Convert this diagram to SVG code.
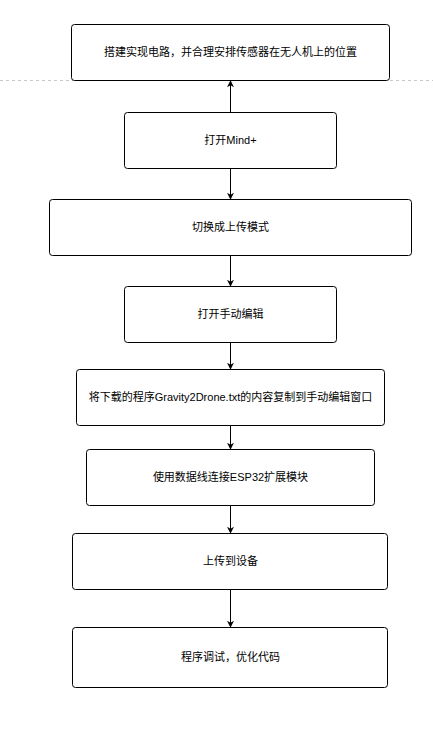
<svg xmlns="http://www.w3.org/2000/svg" width="433" height="733" viewBox="0 0 433 733">
<defs>
<style>
.box{fill:#fff;stroke:#000;stroke-width:1}
.lbl{font-family:"Liberation Sans","Noto Sans CJK SC",sans-serif;font-size:11px;fill:#000;text-anchor:middle;dominant-baseline:central}
.edge{stroke:#000;stroke-width:1;fill:none}
</style>
<marker id="arr" viewBox="0 0 10 10" refX="9" refY="5" markerWidth="7" markerHeight="7" markerUnits="userSpaceOnUse" orient="auto">
<path d="M0,0 L10,5 L0,10 L3,5 Z" fill="#000"/>
</marker>
</defs>
<rect width="433" height="733" fill="#fff"/>
<line x1="0" y1="80.5" x2="433" y2="80.5" stroke="#c8c8c8" stroke-width="1" stroke-dasharray="3,3"/>
<g id="connectors">
<line class="edge" x1="230.5" y1="112" x2="230.5" y2="81" marker-end="url(#arr)"/>
<line class="edge" x1="230.5" y1="168" x2="230.5" y2="199" marker-end="url(#arr)"/>
<line class="edge" x1="230.5" y1="255" x2="230.5" y2="286" marker-end="url(#arr)"/>
<line class="edge" x1="230.5" y1="342" x2="230.5" y2="369" marker-end="url(#arr)"/>
<line class="edge" x1="230.5" y1="425" x2="230.5" y2="449" marker-end="url(#arr)"/>
<line class="edge" x1="230.5" y1="505" x2="230.5" y2="533" marker-end="url(#arr)"/>
<line class="edge" x1="230.5" y1="589" x2="230.5" y2="627" marker-end="url(#arr)"/>
</g>
<g id="n1"><rect class="box" x="71.5" y="24.5" width="318" height="56" rx="3"/><text class="lbl" x="230.5" y="51.5">搭建实现电路，并合理安排传感器在无人机上的位置</text></g>
<g id="n2"><rect class="box" x="124.5" y="112.5" width="212" height="56" rx="3"/><text class="lbl" x="230.5" y="139.5">打开Mind+</text></g>
<g id="n3"><rect class="box" x="49.5" y="199.5" width="362" height="56" rx="3"/><text class="lbl" x="230.5" y="226.5">切换成上传模式</text></g>
<g id="n4"><rect class="box" x="124.5" y="286.5" width="212" height="56" rx="3"/><text class="lbl" x="230.5" y="313.5">打开手动编辑</text></g>
<g id="n5"><rect class="box" x="76.5" y="369.5" width="308" height="56" rx="3"/><text class="lbl" x="230.5" y="396.5">将下载的程序Gravity2Drone.txt的内容复制到手动编辑窗口</text></g>
<g id="n6"><rect class="box" x="86.5" y="449.5" width="288" height="56" rx="3"/><text class="lbl" x="230.5" y="476.5">使用数据线连接ESP32扩展模块</text></g>
<g id="n7"><rect class="box" x="72.5" y="533.5" width="315" height="56" rx="3"/><text class="lbl" x="230.5" y="560.5">上传到设备</text></g>
<g id="n8"><rect class="box" x="72.5" y="627.5" width="315" height="60" rx="3"/><text class="lbl" x="230.5" y="656.5">程序调试，优化代码</text></g>
</svg>
